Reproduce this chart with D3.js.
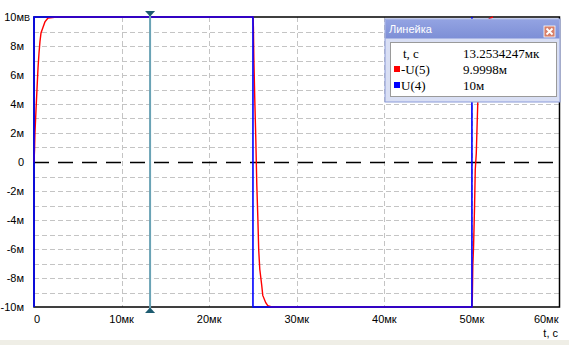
<!DOCTYPE html>
<html><head><meta charset="utf-8">
<script src="https://cdn.jsdelivr.net/npm/d3@7"></script>
<style>body{margin:0;background:#fff}svg{display:block}</style>
</head><body>
<svg id="c" width="569" height="345"></svg>
<script>
// ---- data ----
const xTickVals = [0, 10, 20, 30, 40, 50, 60];
const xTickLabels = ["0", "10мк", "20мк", "30мк", "40мк", "50мк", "60мк"];
const yTickVals = [10, 8, 6, 4, 2, 0, -2, -4, -6, -8, -10];
const yTickLabels = ["10м", "8м", "6м", "4м", "2м", "0", "-2м", "-4м", "-6м", "-8м", "-10м"];
const yGridVals = [-9, -8, -7, -6, -5, -4, -3, -2, -1, 1, 2, 3, 4, 5, 6, 7, 8, 9];
const xGridVals = [10, 20, 30, 40, 50];

// -U(5) (red)
const redT = [0, 0.06, 0.11, 0.23, 0.34, 0.46, 0.57, 0.68, 0.8, 1.03, 1.25, 1.6, 2.6,
  25.0, 25.05, 25.1, 25.2, 25.32, 25.44, 25.55, 25.66, 25.78, 26.0, 26.12, 26.46, 26.69, 27.15,
  50.0, 50.05, 50.1, 50.19, 50.3, 50.38, 50.5, 50.6, 50.68, 50.8, 50.9, 51.0, 51.2, 51.5, 52.0, 52.4];
const redV = [0, 0.83, 2.0, 3.6, 5.0, 6.5, 7.5, 8.3, 8.9, 9.3, 9.66, 9.93, 10,
  10, 9.3, 7.2, 4.5, 1.7, -1.6, -3.7, -6.1, -7.4, -8.5, -9.2, -9.7, -9.9, -10,
  -10, -9.3, -7.2, -5.8, -3.1, -0.55, 0.6, 2.7, 4.3, 5.8, 7.0, 7.9, 8.9, 9.5, 9.9, 10];
// U(4) (blue)
const blueT = [0, 0, 25, 25, 50, 50];
const blueV = [-10, 10, 10, -10, -10, 10];

const cursorT = 13.2534247;
const rulerRows = [
  {name: "t, c", value: "13.2534247мк", color: null},
  {name: "-U(5)", value: "9.9998м", color: "#ff0000"},
  {name: "U(4)", value: "10м", color: "#0000ff"}
];

// ---- scales ----
const x = d3.scaleLinear().domain([0, 60]).range([34, 559.5]);
const y = d3.scaleLinear().domain([-10, 10]).range([307, 17]);
const svg = d3.select("#c");

svg.append("rect").attr("x", 0).attr("y", 340).attr("width", 569).attr("height", 5).attr("fill", "#efeee6");

// grid
svg.append("g").selectAll("line").data(yGridVals).join("line")
  .attr("x1", x(0)).attr("x2", x(60)).attr("y1", d => Math.round(y(d)) + 0.5).attr("y2", d => Math.round(y(d)) + 0.5)
  .attr("stroke", "#c4c4c4").attr("stroke-dasharray", "5,3");
svg.append("g").selectAll("line").data(xGridVals).join("line")
  .attr("y1", y(10)).attr("y2", y(-10)).attr("x1", d => Math.round(x(d)) + 0.5).attr("x2", d => Math.round(x(d)) + 0.5)
  .attr("stroke", "#c4c4c4").attr("stroke-dasharray", "5,3");

// zero line
svg.append("line").attr("x1", x(0)).attr("x2", x(60))
  .attr("y1", Math.round(y(0)) + 0.5).attr("y2", Math.round(y(0)) + 0.5)
  .attr("stroke", "#000").attr("stroke-width", 1.3).attr("stroke-dasharray", "15,9");

// border
svg.append("rect").attr("x", x(0)).attr("y", y(10)).attr("width", x(60) - x(0)).attr("height", y(-10) - y(10))
  .attr("fill", "none").attr("stroke", "#000").attr("stroke-width", 1.5);

// axis labels
const yl = svg.append("g").attr("font-family", "Liberation Sans, Arial, sans-serif").attr("font-size", 11).attr("fill", "#000");
yl.selectAll("text").data(yTickVals).join("text")
  .attr("x", 24).attr("y", d => y(d) + 4).attr("text-anchor", "end")
  .text((d, i) => yTickLabels[i]);
yl.append("text").attr("x", 24).attr("y", y(10) + 4).attr("font-size", 9).text("В");

const xl = svg.append("g").attr("font-family", "Liberation Sans, Arial, sans-serif").attr("font-size", 11).attr("fill", "#000");
xl.selectAll("text").data(xTickVals).join("text")
  .attr("x", (d, i) => i === 0 ? x(d) + 3 : (i === xTickVals.length - 1 ? x(d) - 1 : x(d)))
  .attr("y", 323)
  .attr("text-anchor", (d, i) => i === xTickVals.length - 1 ? "end" : "middle")
  .text((d, i) => xTickLabels[i]);
xl.append("text").attr("x", 558).attr("y", 337).attr("text-anchor", "end").text("t, c");

// traces
const line = d3.line().x(d => x(d[0])).y(d => y(d[1]));
svg.append("path").datum(redT.map((t, i) => [t, redV[i]])).attr("d", line)
  .attr("fill", "none").attr("stroke", "#ff0000").attr("stroke-width", 1.4);
svg.append("path").datum(blueT.map((t, i) => [t, blueV[i]])).attr("d", line)
  .attr("fill", "none").attr("stroke", "#0000ff").attr("stroke-width", 1.6);

// cursor
const cx = x(cursorT);
svg.append("line").attr("x1", cx).attr("x2", cx).attr("y1", y(10) - 4).attr("y2", y(-10) + 2)
  .attr("stroke", "#6aa3b5").attr("stroke-width", 2);
svg.append("path").attr("d", `M${cx - 5},11 L${cx + 5},11 L${cx},16.5 Z`).attr("fill", "#1d5b70");
svg.append("path").attr("d", `M${cx - 5},313 L${cx + 5},313 L${cx},307.5 Z`).attr("fill", "#1d5b70");

// ruler window
const w = svg.append("g");
const wx = 385, wy = 19, ww = 175, wh = 83;
w.append("rect").attr("x", wx).attr("y", wy).attr("width", ww).attr("height", wh).attr("fill", "#d9dff4").attr("stroke", "#8a9ad8");
const grad = svg.append("defs").append("linearGradient").attr("id", "tg").attr("x1", 0).attr("x2", 0).attr("y1", 0).attr("y2", 1);
grad.append("stop").attr("offset", 0).attr("stop-color", "#93a3e2");
grad.append("stop").attr("offset", 1).attr("stop-color", "#7d8fd6");
w.append("rect").attr("x", wx + 0.5).attr("y", wy + 0.5).attr("width", ww - 1).attr("height", 19).attr("fill", "url(#tg)");
w.append("text").attr("x", wx + 4).attr("y", wy + 14).attr("fill", "#fff").attr("font-family", "Liberation Sans, Arial, sans-serif")
  .attr("font-size", 11).text("Линейка");
w.append("rect").attr("x", 544).attr("y", 26).attr("width", 11).attr("height", 11).attr("fill", "#d8806a").attr("stroke", "#fff").attr("stroke-width", 0.8);
w.append("path").attr("d", "M546.5,28.5 L552.5,34.5 M552.5,28.5 L546.5,34.5").attr("stroke", "#fff").attr("stroke-width", 1.8);
w.append("rect").attr("x", 390.5).attr("y", 42.5).attr("width", 166).attr("height", 54).attr("fill", "#fff")
  .attr("stroke", "#9a9a9a");
const rows = w.selectAll("g.row").data(rulerRows).join("g").attr("class", "row")
  .attr("transform", (d, i) => `translate(0,${58 + i * 16})`);
rows.filter(d => d.color).append("rect").attr("x", 394).attr("y", -8).attr("width", 6).attr("height", 6).attr("fill", d => d.color);
rows.append("text").attr("x", (d, i) => d.color ? 401 : 403).attr("y", 0)
  .attr("font-family", "Liberation Serif, Times New Roman, serif").attr("font-size", 13).text(d => d.name);
rows.append("text").attr("x", 463).attr("y", 0)
  .attr("font-family", "Liberation Serif, Times New Roman, serif").attr("font-size", 13).text(d => d.value);
</script>
</body></html>
